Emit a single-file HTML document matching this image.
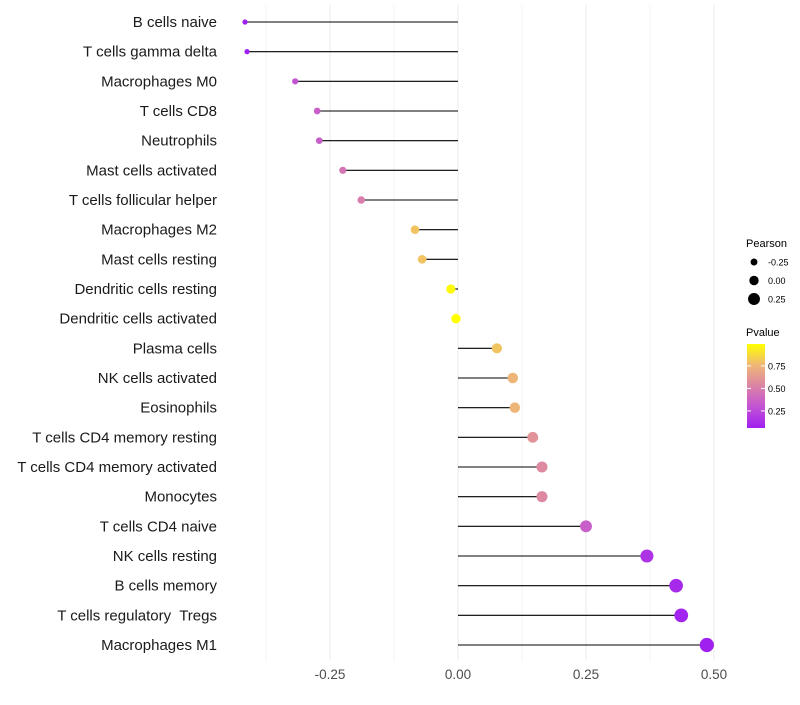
<!DOCTYPE html>
<html><head><meta charset="utf-8"><style>
body{margin:0;background:#fff;font-family:"Liberation Sans",sans-serif}
text{white-space:pre}
</style></head><body>
<svg id="chart" width="800" height="700" xmlns="http://www.w3.org/2000/svg">
<defs><linearGradient id="pg" x1="0" y1="1" x2="0" y2="0">
<stop offset="0" stop-color="#a020f0"/><stop offset="0.25" stop-color="#c253d4"/><stop offset="0.5" stop-color="#db83a6"/><stop offset="0.75" stop-color="#efb777"/><stop offset="1" stop-color="#ffff00"/></linearGradient></defs>
<g id="grid"></g><g id="marks"></g><g id="labels"></g>
<g font-size="11">
<text x="746" y="247" fill="#000">Pearson</text>
<text x="746" y="336" fill="#000">Pvalue</text>
<rect x="747" y="344" width="18" height="84" fill="url(#pg)"/>
<g id="leg"></g>
</g>
</svg>
<script>
const categories=["B cells naive","T cells gamma delta","Macrophages M0","T cells CD8","Neutrophils","Mast cells activated","T cells follicular helper","Macrophages M2","Mast cells resting","Dendritic cells resting","Dendritic cells activated","Plasma cells","NK cells activated","Eosinophils","T cells CD4 memory resting","T cells CD4 memory activated","Monocytes","T cells CD4 naive","NK cells resting","B cells memory","T cells regulatory  Tregs","Macrophages M1"];
const pearson=[-0.416,-0.412,-0.318,-0.275,-0.271,-0.225,-0.189,-0.084,-0.070,-0.014,-0.004,0.076,0.107,0.111,0.146,0.164,0.164,0.250,0.369,0.426,0.436,0.486];
const pvalue=[0.05,0.06,0.30,0.35,0.35,0.45,0.50,0.80,0.80,0.97,0.99,0.80,0.75,0.75,0.60,0.55,0.55,0.35,0.15,0.10,0.08,0.05];
const xTicks=[-0.25,0,0.25,0.5];
const xTickLabels=["-0.25","0.00","0.25","0.50"];
const sizeTicks=[-0.25,0,0.25];
const pTicks=[0.25,0.5,0.75];
const NS="http://www.w3.org/2000/svg";
const x=v=>458+v*512;
const y=i=>22+i*(623/21);
const r=v=>4.7+5*v;
const py=p=>428-(p-0.06)*90;
const stops=[[0,[160,32,240]],[0.25,[194,83,212]],[0.5,[219,131,166]],[0.75,[239,183,119]],[1,[255,255,0]]];
function col(p){const t=Math.max(0,Math.min(1,(p-0.06)/(0.99-0.06)));for(let k=1;k<stops.length;k++){if(t<=stops[k][0]){const a=stops[k-1],b=stops[k],f=(t-a[0])/(b[0]-a[0]);return "rgb("+a[1].map((c,j)=>Math.round(c+(b[1][j]-c)*f)).join(",")+")";}}return "rgb(255,255,0)";}
function mk(t,at,parent){const e=document.createElementNS(NS,t);for(const k in at)e.setAttribute(k,at[k]);document.getElementById(parent).appendChild(e);return e;}
for(let v=-0.375;v<=0.55;v+=0.125){const g=mk("line",{x1:x(v),x2:x(v),y1:5,y2:660,stroke:"#ebebeb","stroke-width":Math.abs(v*8%2)<0.01?1:0.6},"grid");

}
xTicks.forEach((v,i)=>{const t=mk("text",{x:x(v),y:679,"text-anchor":"middle","font-size":13.5,fill:"#4d4d4d"},"labels");t.textContent=xTickLabels[i];

});
categories.forEach((c,i)=>{
const l=mk("line",{x1:x(0),x2:x(pearson[i]),y1:y(i),y2:y(i),stroke:"#000","stroke-width":1.1},"marks");


const d=mk("circle",{cx:x(pearson[i]),cy:y(i),r:r(pearson[i]),fill:col(pvalue[i])},"marks");


const t=mk("text",{x:217,y:y(i)+5,"text-anchor":"end","font-size":15,fill:"#1a1a1a"},"labels");t.textContent=c;

});
sizeTicks.forEach((v,i)=>{const cy=262+i*18.5;
const d=mk("circle",{cx:754,cy:cy,r:r(v),fill:"#000"},"leg");


const t=mk("text",{x:768,y:cy+3.5,"font-size":9,fill:"#000"},"leg");t.textContent=v.toFixed(2);

});
pTicks.forEach(p=>{const t=mk("text",{x:768,y:py(p)+3.5,"font-size":9,fill:"#000"},"leg");t.textContent=p.toFixed(2);


mk("line",{x1:747,x2:751,y1:py(p),y2:py(p),stroke:"#fff"},"leg");mk("line",{x1:761,x2:765,y1:py(p),y2:py(p),stroke:"#fff"},"leg");});
</script>
</body></html>
